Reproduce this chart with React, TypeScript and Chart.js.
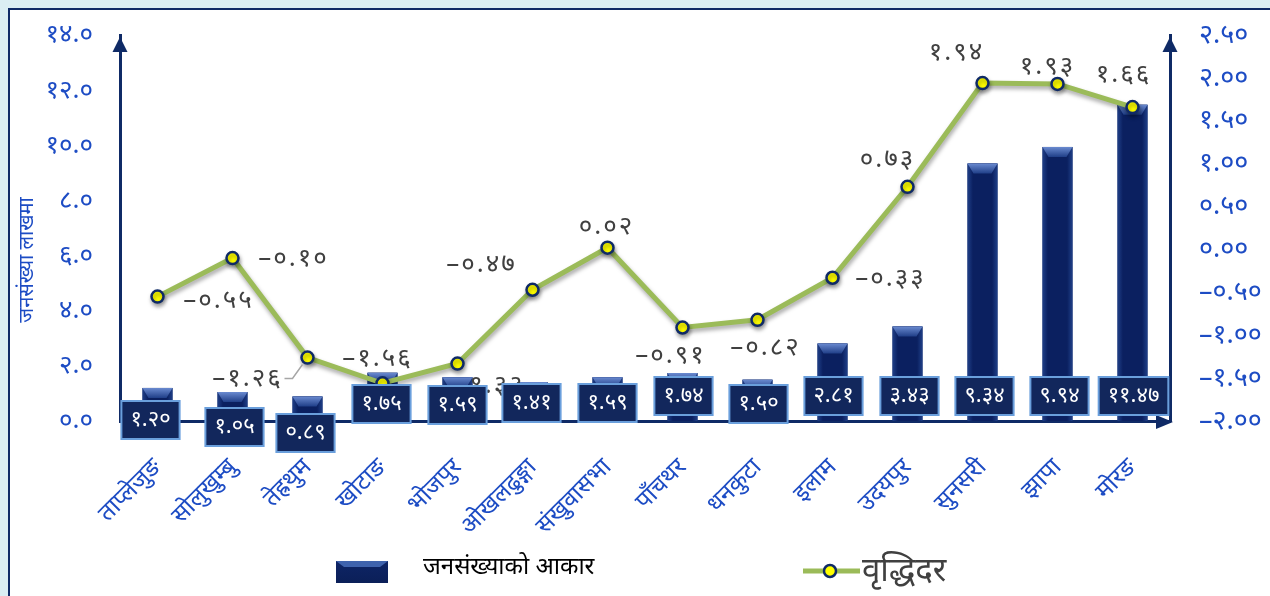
import React, { useEffect, useRef } from 'react';
import { Chart, registerables } from 'chart.js';

Chart.register(...registerables);

// ---------- data ----------
const districts = ['ताप्लेजुङ', 'सोलुखुम्बु', 'तेह्रथुम', 'खोटाङ', 'भोजपुर', 'ओखलढुङ्गा', 'संखुवासभा', 'पाँचथर', 'धनकुटा', 'इलाम', 'उदयपुर', 'सुनसरी', 'झापा', 'मोरङ'];
const population = [1.2, 1.05, 0.89, 1.75, 1.59, 1.41, 1.59, 1.74, 1.5, 2.81, 3.43, 9.34, 9.94, 11.47];
const growthRate = [-0.55, -0.1, -1.26, -1.56, -1.33, -0.47, 0.02, -0.91, -0.82, -0.33, 0.73, 1.94, 1.93, 1.66];
const popAxisRange = [0, 14, 2];
const rateAxisRange = [-2, 2.5, 0.5];
const popLegend = 'जनसंख्याको आकार';
const rateLegend = 'वृद्धिदर';
const popAxisTitle = 'जनसंख्या लाखमा';

// ---------- styles (label placement offsets, px) ----------
const rateLabelOffsets = [[61, 4], [61, 1], [-60, 21], [-5, -25], [32, 22], [-51, -25], [-1, -21], [-12, 28], [8, 28], [58, 1], [-20, -27], [-26, -30], [-10, -17], [-9, -32]];
const popLabelOffsets = [[-7, -1], [2, 6], [-2, 12], [-1, -17], [0, -16], [-1, -18], [0, -18], [1, -25], [1, -17], [1, -25], [2, -25], [2, -25], [2, -25], [1, -25]];

const FONT = "'Noto Sans', 'DejaVu Sans', sans-serif";
const BLUE = '#1d4cc4';
const NAVY = '#0f2a66';
const GREEN = '#9bbb59';
const PAGE_BG = '#dbeef3';

const DEV = '०१२३४५६७८९';
const toDev = (s: string) => s.replace(/\d/g, (d) => DEV[+d]).replace('-', '–');

const decor = {
  id: 'decor',
  beforeDatasetDraw(chart: any, args: any) {
    if (args.index === 1) {
      const ctx = chart.ctx;
      ctx.save();
      ctx.shadowColor = 'rgba(0,0,0,0.35)';
      ctx.shadowBlur = 4;
      ctx.shadowOffsetY = 3;
      ctx.shadowOffsetX = 1;
    }
  },
  afterDatasetDraw(chart: any, args: any) {
    const ctx = chart.ctx;
    if (args.index === 1) {
      ctx.restore();
      return;
    }
    if (args.index !== 0) return;
    const meta = chart.getDatasetMeta(0);
    meta.data.forEach((el: any) => {
      const { x, y, base, width } = el.getProps(['x', 'y', 'base', 'width'], true);
      const l = x - width / 2;
      const r = x + width / 2;
      const g = ctx.createLinearGradient(l, 0, r, 0);
      g.addColorStop(0, '#1f3f88');
      g.addColorStop(0.18, '#0b2060');
      g.addColorStop(0.82, '#0b2060');
      g.addColorStop(1, '#1f3f88');
      ctx.save();
      ctx.fillStyle = g;
      ctx.fillRect(l, y, width, base - y);
      const bh = Math.min(10, base - y);
      const tg = ctx.createLinearGradient(0, y, 0, y + bh);
      tg.addColorStop(0, '#6a8ad0');
      tg.addColorStop(1, '#203f88');
      ctx.fillStyle = tg;
      ctx.beginPath();
      ctx.moveTo(l, y);
      ctx.lineTo(r, y);
      ctx.lineTo(r - 6, y + bh);
      ctx.lineTo(l + 6, y + bh);
      ctx.closePath();
      ctx.fill();
      ctx.restore();
    });
  },
  afterDraw(chart: any) {
    const ctx = chart.ctx;
    const ca = chart.chartArea;
    ctx.save();
    // axis arrows
    ctx.fillStyle = NAVY;
    const upArrow = (x: number, tip: number) => {
      ctx.beginPath();
      ctx.moveTo(x, tip);
      ctx.lineTo(x + 7.5, tip + 15);
      ctx.lineTo(x - 7.5, tip + 15);
      ctx.closePath();
      ctx.fill();
    };
    upArrow(ca.left, ca.top + 2);
    upArrow(ca.right, ca.top + 2);
    ctx.beginPath();
    ctx.moveTo(ca.right + 3, ca.bottom + 1);
    ctx.lineTo(ca.right - 14, ca.bottom - 6);
    ctx.lineTo(ca.right - 14, ca.bottom + 8);
    ctx.closePath();
    ctx.fill();

    // y axis title
    ctx.save();
    ctx.translate(17, 250);
    ctx.rotate(-Math.PI / 2);
    ctx.fillStyle = BLUE;
    ctx.font = `20px ${FONT}`;
    ctx.textAlign = 'center';
    ctx.textBaseline = 'middle';
    ctx.fillText(popAxisTitle, 0, 0);
    ctx.restore();

    // growth-rate labels
    const lineMeta = chart.getDatasetMeta(1);
    ctx.font = `26px ${FONT}`;
    (ctx as any).letterSpacing = '2px';
    ctx.fillStyle = '#404040';
    ctx.textAlign = 'center';
    ctx.textBaseline = 'middle';
    lineMeta.data.forEach((pt: any, i: number) => {
      const [dx, dy] = rateLabelOffsets[i];
      ctx.fillText(toDev(growthRate[i].toFixed(2)), pt.x + dx, pt.y + dy);
    });
    (ctx as any).letterSpacing = '0px';
    // leader line for third label
    const p3 = lineMeta.data[2];
    ctx.strokeStyle = '#a6a6a6';
    ctx.lineWidth = 1.5;
    ctx.beginPath();
    ctx.moveTo(p3.x - 23, p3.y + 21);
    ctx.lineTo(p3.x - 15, p3.y + 21);
    ctx.lineTo(p3.x - 5, p3.y + 7);
    ctx.stroke();

    // population boxes
    const barMeta = chart.getDatasetMeta(0);
    ctx.font = `22px ${FONT}`;
    barMeta.data.forEach((bar: any, i: number) => {
      const [dx, dy] = popLabelOffsets[i];
      const txt = toDev(population[i].toFixed(2));
      const tw = ctx.measureText(txt).width;
      const w = tw + 18;
      const h = 38;
      const cx = bar.x + dx;
      const cy = ca.bottom + dy;
      ctx.fillStyle = '#12275c';
      ctx.fillRect(cx - w / 2, cy - h / 2, w, h);
      ctx.strokeStyle = '#6a9fdc';
      ctx.lineWidth = 2;
      ctx.strokeRect(cx - w / 2, cy - h / 2, w, h);
      ctx.fillStyle = '#ffffff';
      ctx.fillText(txt, cx, cy);
    });

    // legend: population
    const lx = 326, ly = 551, lw = 52, lh = 22;
    const lg = ctx.createLinearGradient(0, ly, 0, ly + lh);
    lg.addColorStop(0, '#0e2566');
    lg.addColorStop(1, '#0b1f58');
    ctx.fillStyle = lg;
    ctx.fillRect(lx, ly, lw, lh);
    ctx.fillStyle = '#3f63ad';
    ctx.beginPath();
    ctx.moveTo(lx, ly);
    ctx.lineTo(lx + lw, ly);
    ctx.lineTo(lx + lw - 8, ly + 6);
    ctx.lineTo(lx + 8, ly + 6);
    ctx.closePath();
    ctx.fill();
    ctx.fillStyle = '#000000';
    ctx.font = `24px ${FONT}`;
    ctx.textAlign = 'left';
    ctx.fillText(popLegend, 413, 557);

    // legend: growth rate
    ctx.strokeStyle = GREEN;
    ctx.lineWidth = 5;
    ctx.beginPath();
    ctx.moveTo(793, 561);
    ctx.lineTo(850, 561);
    ctx.stroke();
    ctx.beginPath();
    ctx.arc(820, 561, 6, 0, Math.PI * 2);
    ctx.fillStyle = '#ffff00';
    ctx.fill();
    ctx.lineWidth = 2.5;
    ctx.strokeStyle = NAVY;
    ctx.stroke();
    ctx.fillStyle = '#404040';
    ctx.font = `33px ${FONT}`;
    ctx.fillText(rateLegend, 852, 562);
    ctx.restore();
  },
};

function ChartView() {
  const ref = useRef<HTMLCanvasElement | null>(null);
  useEffect(() => {
    const html = document.documentElement;
    html.style.background = `linear-gradient(${PAGE_BG} 0 8px, transparent 8px), linear-gradient(90deg, ${PAGE_BG} 0 8px, #ffffff 8px)`;
    html.style.overflow = 'hidden';
    document.body.style.background = 'transparent';
    const chart = new Chart(ref.current as HTMLCanvasElement, {
      type: 'bar',
      data: {
        labels: districts,
        datasets: [
          {
            type: 'bar',
            label: popLegend,
            data: population,
            yAxisID: 'y',
            backgroundColor: '#0b2060',
            barPercentage: 0.4,
            categoryPercentage: 1,
            order: 1,
          },
          {
            type: 'line',
            label: rateLegend,
            data: growthRate,
            yAxisID: 'y1',
            borderColor: GREEN,
            borderWidth: 5,
            pointRadius: 6,
            pointBorderWidth: 2.5,
            pointBackgroundColor: '#ffff00',
            pointBorderColor: NAVY,
            tension: 0,
            order: 0,
          } as any,
        ],
      },
      options: {
        animation: false,
        responsive: false,
        maintainAspectRatio: false,
        layout: { padding: { top: 25, left: 0, right: 0, bottom: 0 } },
        plugins: { legend: { display: false }, tooltip: { enabled: false }, title: { display: false } },
        scales: {
          x: {
            offset: true,
            grid: { display: false },
            border: { display: true, color: NAVY, width: 3 },
            ticks: { maxRotation: 45, minRotation: 45, color: BLUE, font: { size: 24, family: FONT }, padding: 24, autoSkip: false },
            afterFit: (s: any) => { s.height = 175; s.paddingLeft = 0; s.paddingRight = 0; },
          },
          y: {
            position: 'left',
            min: popAxisRange[0],
            max: popAxisRange[1],
            grid: { display: false },
            border: { display: true, color: NAVY, width: 3 },
            ticks: {
              stepSize: popAxisRange[2],
              color: BLUE,
              font: { size: 26, family: FONT },
              padding: 19,
              callback: (v: any) => toDev(Number(v).toFixed(1)),
            },
            afterFit: (s: any) => { s.width = 110; s.paddingTop = 0; s.paddingBottom = 0; },
          },
          y1: {
            position: 'right',
            min: rateAxisRange[0],
            max: rateAxisRange[1],
            grid: { display: false },
            border: { display: true, color: NAVY, width: 3 },
            ticks: {
              stepSize: rateAxisRange[2],
              color: BLUE,
              font: { size: 27, family: FONT },
              padding: 21,
              callback: (v: any) => toDev(Number(v).toFixed(2)),
            },
            afterFit: (s: any) => { s.width = 100; s.paddingTop = 0; s.paddingBottom = 0; },
          },
        },
      } as any,
      plugins: [decor],
    });
    return () => chart.destroy();
  }, []);
  return <canvas ref={ref} width={1260} height={586} style={{ display: 'block', width: 1260, height: 586 }} />;
}

export default function App() {
  return (
    <div
      style={{
        position: 'fixed',
        left: 8,
        top: 8,
        right: -40,
        bottom: -40,
        background: '#ffffff',
        borderTop: `2px solid ${NAVY}`,
        borderLeft: `2px solid ${NAVY}`,
        boxSizing: 'border-box',
        overflow: 'hidden',
      }}
    >
      <ChartView />
    </div>
  );
}
